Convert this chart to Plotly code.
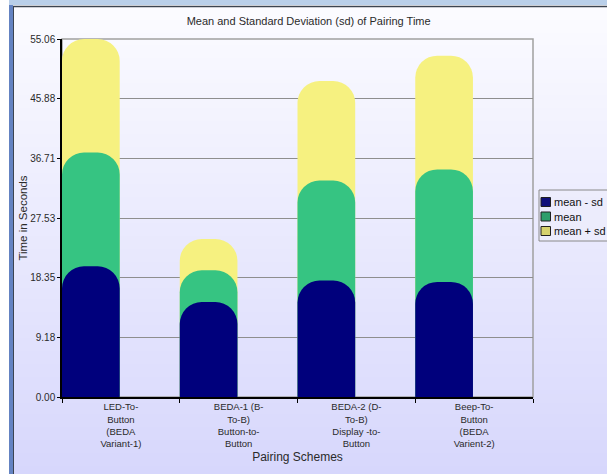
import base64
import struct
import zlib

import plotly.graph_objects as go

# ---- data -------------------------------------------------------------
schemes = [
    "LED-To-Button (BEDA Variant-1)",
    "BEDA-1 (B-To-B) Button-to-Button",
    "BEDA-2 (D-To-B) Display -to-Button",
    "Beep-To-Button (BEDA Varient-2)",
]
scheme_labels = [
    "LED-To-<br>Button<br>(BEDA<br>Variant-1)",
    "BEDA-1 (B-<br>To-B)<br>Button-to-<br>Button",
    "BEDA-2 (D-<br>To-B)<br>Display -to-<br>Button",
    "Beep-To-<br>Button<br>(BEDA<br>Varient-2)",
]
mean_minus_sd = [20.1, 14.6, 17.9, 17.7]
mean_time = [37.6, 19.5, 33.3, 35.0]
mean_plus_sd = [55.06, 24.3, 48.6, 52.5]

y_ticks = [0.00, 9.18, 18.35, 27.53, 36.71, 45.88, 55.06]
y_tick_text = ["0.00", "9.18", "18.35", "27.53", "36.71", "45.88", "55.06"]

series_names = ["mean - sd", "mean", "mean + sd"]
bar_colors = ["#00007c", "#36c482", "#f6f180"]
swatch_colors = ["#10107a", "#2d9e6b", "#d6d26e"]

# ---- geometry of the page (pixels) -----------------------------------
W, H = 607, 474
L, R, T, B = 62, 533, 39, 397


def px(x):
    return (x - L) / (R - L)


def py(y):
    return (B - y) / (B - T)


def gradient_png(top, bottom, h=256):
    """Build a 1-pixel-wide vertical gradient PNG as a data URI."""
    raw = b""
    for i in range(h):
        t = i / (h - 1)
        rgb = bytes(round(a + (b - a) * t) for a, b in zip(top, bottom))
        raw += b"\x00" + rgb
    def chunk(tag, data):
        c = struct.pack(">I", len(data)) + tag + data
        return c + struct.pack(">I", zlib.crc32(tag + data) & 0xFFFFFFFF)
    png = b"\x89PNG\r\n\x1a\n"
    png += chunk(b"IHDR", struct.pack(">IIBBBBB", 1, h, 8, 2, 0, 0, 0))
    png += chunk(b"IDAT", zlib.compress(raw))
    png += chunk(b"IEND", b"")
    return "data:image/png;base64," + base64.b64encode(png).decode()


FONT = "Liberation Sans, Arial, sans-serif"
TEXT = "#2a2a2a"

fig = go.Figure()

# back to front: mean + sd, mean, mean - sd.
# Each series sits on its own (overlaid) category axis so every bar
# gets its own rounded top.
layers = [
    (mean_plus_sd, series_names[2], bar_colors[2], "x"),
    (mean_time, series_names[1], bar_colors[1], "x2"),
    (mean_minus_sd, series_names[0], bar_colors[0], "x3"),
]
for vals, name, col, xa in layers:
    fig.add_trace(go.Bar(
        x=schemes, y=vals, name=name, xaxis=xa, yaxis="y",
        width=0.49, offset=-0.5,
        marker=dict(color=col, line=dict(width=0), cornerradius=22),
        showlegend=False,
        hovertemplate="%{x}<br>" + name + ": %{y:.2f}<extra></extra>",
    ))

shapes = [
    # plot frame (top / right in grey)
    dict(type="rect", xref="paper", yref="paper", x0=0, x1=1, y0=0, y1=1,
         line=dict(color="#a0a0a0", width=1.5), layer="below"),
    # window frame: top strip and left strip
    dict(type="rect", xref="paper", yref="paper", x0=px(0), x1=px(W),
         y0=py(5), y1=py(-2), fillcolor="#b9cfe9", line=dict(width=0)),
    dict(type="line", xref="paper", yref="paper", x0=px(10), x1=px(W),
         y0=py(6.5), y1=py(6.5), line=dict(color="#3c4450", width=1.5)),
    dict(type="rect", xref="paper", yref="paper", x0=px(-2), x1=px(9),
         y0=py(H + 2), y1=py(-2), fillcolor="#ffffff", line=dict(width=0)),
    dict(type="rect", xref="paper", yref="paper", x0=px(9), x1=px(13),
         y0=py(H + 2), y1=py(5), fillcolor="#6483c2", line=dict(width=0)),
    dict(type="line", xref="paper", yref="paper", x0=px(13.5), x1=px(13.5),
         y0=py(H + 2), y1=py(6), line=dict(color="#3c4450", width=1)),
    # legend box
    dict(type="rect", xref="paper", yref="paper", x0=px(539), x1=px(W + 30),
         y0=py(241), y1=py(190), fillcolor="rgba(236,236,252,0.9)",
         line=dict(color="#8a8a8a", width=1)),
]

annotations = []
legend_rows = [202, 216.5, 231]
for name, col, yc in zip(series_names, swatch_colors, legend_rows):
    shapes.append(dict(type="rect", xref="paper", yref="paper",
                       x0=px(541), x1=px(550.5), y0=py(yc + 4.5), y1=py(yc - 4.5),
                       fillcolor=col, line=dict(color="#202020", width=1)))
    annotations.append(dict(xref="paper", yref="paper", x=px(552), y=py(yc),
                            xanchor="left", yanchor="middle", showarrow=False,
                            text=name, font=dict(family=FONT, size=11, color="#111111")))

hidden_cat_axis = dict(
    type="category", categoryorder="array", categoryarray=schemes,
    range=[-0.5, 3.5], overlaying="x", visible=False, matches="x",
)

fig.update_layout(
    width=W, height=H,
    margin=dict(l=L, r=W - R, t=T, b=H - B, autoexpand=False),
    paper_bgcolor="#e8e8fc",
    plot_bgcolor="rgba(0,0,0,0)",
    barmode="overlay",
    showlegend=False,
    title=dict(text="Mean and Standard Deviation (sd) of Pairing Time",
               x=px(301.5), xanchor="center", y=1 - 21 / H, yanchor="middle",
               font=dict(family=FONT, size=11, color=TEXT)),
    xaxis=dict(
        type="category", categoryorder="array", categoryarray=schemes,
        tickmode="array", tickvals=schemes, ticktext=scheme_labels,
        tickson="boundaries", ticks="outside", ticklen=4, tickcolor="#000000",
        showline=True, linecolor="#000000", linewidth=1.5,
        showgrid=False, range=[-0.5, 3.5],
        tickfont=dict(family=FONT, size=9.5, color=TEXT),
        title=dict(text="Pairing Schemes", standoff=4,
                   font=dict(family=FONT, size=12, color=TEXT)),
    ),
    xaxis2=hidden_cat_axis,
    xaxis3=hidden_cat_axis,
    yaxis=dict(
        range=[0, 55.06], tickmode="array", tickvals=y_ticks, ticktext=y_tick_text,
        ticks="outside", ticklen=3, tickcolor="#000000",
        showline=True, linecolor="#000000", linewidth=1.5,
        showgrid=True, gridcolor="#8e8e8e", gridwidth=1.3,
        zeroline=False,
        tickfont=dict(family=FONT, size=10, color=TEXT),
        title=dict(text="Time in Seconds", standoff=0,
                   font=dict(family=FONT, size=11.5, color=TEXT)),
    ),
    images=[dict(source=gradient_png((252, 252, 255), (215, 215, 252)),
                 xref="paper", yref="paper", x=px(0), y=py(0),
                 sizex=px(W) - px(0), sizey=py(0) - py(H),
                 xanchor="left", yanchor="top", sizing="stretch", layer="below")],
    shapes=shapes,
    annotations=annotations,
)

fig.write_html("out.html")
